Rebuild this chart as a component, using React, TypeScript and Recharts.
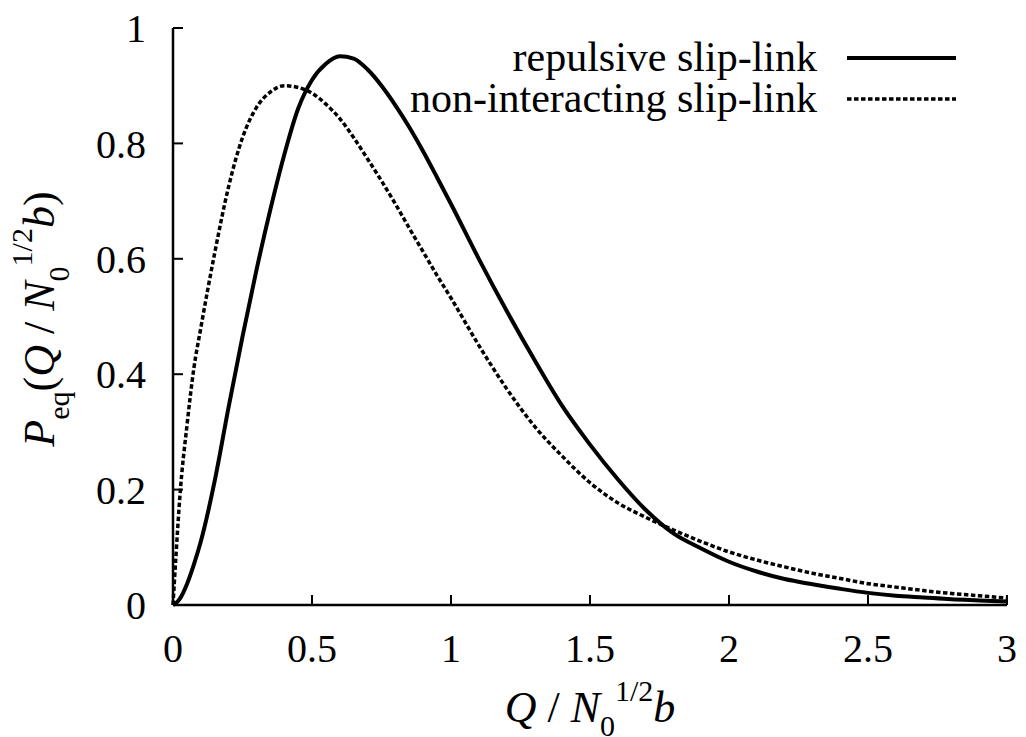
import React from 'react';
import { LineChart, Line, XAxis, YAxis, Legend } from 'recharts';

const FONT = 'Liberation Serif, Tinos, Times New Roman, Times, DejaVu Serif, serif';

// Q / N0^(1/2) b
const qValues = [
  0, 0.01, 0.025, 0.05, 0.075, 0.1,
  0.15, 0.2, 0.25, 0.3, 0.35, 0.4, 0.45, 0.5, 0.55, 0.6, 0.65, 0.7, 0.75, 0.8, 0.85, 0.9, 0.95, 1.0,
  1.1, 1.2, 1.3, 1.4, 1.5, 1.6, 1.7, 1.8, 1.9, 2.0, 2.1, 2.2, 2.3, 2.4, 2.5, 2.6, 2.7, 2.8, 2.9, 3.0,
];

const repulsive = [
  0, 0.003, 0.011, 0.036, 0.07, 0.11,
  0.215, 0.343, 0.465, 0.58, 0.685, 0.78, 0.86, 0.91, 0.938, 0.951, 0.947, 0.928, 0.9, 0.866, 0.828, 0.786, 0.741, 0.695,
  0.6, 0.51, 0.425, 0.345, 0.278, 0.218, 0.165, 0.124, 0.098, 0.075, 0.058, 0.045, 0.036, 0.028, 0.021, 0.016, 0.013, 0.01, 0.008, 0.006,
];

const nonInteracting = [
  0, 0.08, 0.19, 0.31, 0.41, 0.48,
  0.61, 0.725, 0.81, 0.862, 0.889, 0.9, 0.897, 0.887, 0.868, 0.843, 0.81, 0.773, 0.735, 0.695, 0.653, 0.612, 0.571, 0.532,
  0.45, 0.375, 0.31, 0.258, 0.212, 0.177, 0.152, 0.13, 0.11, 0.092, 0.078, 0.066, 0.055, 0.046, 0.037, 0.031, 0.025, 0.02, 0.016, 0.012,
];

const xTicks = [0, 0.5, 1, 1.5, 2, 2.5, 3];
const yTicks = [0, 0.2, 0.4, 0.6, 0.8, 1];

const series = [
  { key: 'repulsive', name: 'repulsive slip-link', width: 4, dash: undefined },
  { key: 'nonInteracting', name: 'non-interacting slip-link', width: 3.5, dash: '4.5 2.5' },
];

const data = qValues.map((q, i) => ({
  q,
  repulsive: repulsive[i],
  nonInteracting: nonInteracting[i],
}));

const tickStyle = { fontFamily: FONT, fontSize: 40, fill: '#000' };
const axisLine = { stroke: '#000', strokeWidth: 2.5 };
const tickLine = { stroke: '#000', strokeWidth: 2 };

const LegendBox = () => (
  <div style={{ fontFamily: FONT, fontSize: 42, color: '#000' }}>
    {series.map((s) => (
      <div
        key={s.key}
        style={{ display: 'flex', alignItems: 'center', justifyContent: 'flex-end', height: 41, lineHeight: '41px' }}
      >
        <span>{s.name}</span>
        <svg width={109} height={10} style={{ marginLeft: 30 }}>
          <line x1={0} x2={109} y1={5} y2={5} stroke="#000" strokeWidth={s.width} strokeDasharray={s.dash} />
        </svg>
      </div>
    ))}
  </div>
);

const XLabel = (props: any) => {
  const { viewBox } = props;
  const cx = viewBox.x + viewBox.width / 2;
  const y = viewBox.y + 117;
  return (
    <text x={cx} y={y} textAnchor="middle" fontFamily={FONT} fontSize={44} fill="#000">
      <tspan fontStyle="italic">Q</tspan>
      <tspan> / </tspan>
      <tspan fontStyle="italic">N</tspan>
      <tspan dy={14} fontSize={30}>0</tspan>
      <tspan dy={-35} fontSize={30}>1/2</tspan>
      <tspan dy={21} fontStyle="italic">b</tspan>
    </text>
  );
};

const YLabel = () => {
  const x = 54;
  const y = 319;
  return (
    <text x={x} y={y} transform={`rotate(-90, ${x}, ${y})`} textAnchor="middle" fontFamily={FONT} fontSize={44} fill="#000">
      <tspan fontStyle="italic">P</tspan>
      <tspan dy={15} fontSize={30}>eq</tspan>
      <tspan dy={-15}>(</tspan>
      <tspan fontStyle="italic">Q</tspan>
      <tspan> / </tspan>
      <tspan fontStyle="italic">N</tspan>
      <tspan dy={15} fontSize={30}>0</tspan>
      <tspan dy={-37} fontSize={30}>1/2</tspan>
      <tspan dy={22} fontStyle="italic">b</tspan>
      <tspan>)</tspan>
    </text>
  );
};

export default function App() {
  return (
    <div style={{ position: 'absolute', left: 0, top: 0, background: '#fff' }}>
      <LineChart width={1026} height={737} data={data} margin={{ top: 28, right: 19, left: 73, bottom: 72 }}>
        <XAxis
          dataKey="q"
          type="number"
          domain={[0, 3]}
          ticks={xTicks}
          height={60}
          tickSize={-10}
          tickMargin={39}
          tick={tickStyle}
          axisLine={axisLine}
          tickLine={tickLine}
          label={{ content: (p: any) => <XLabel {...p} /> }}
        />
        <XAxis
          xAxisId="top"
          dataKey="q"
          type="number"
          orientation="top"
          domain={[0, 3]}
          ticks={xTicks}
          height={0}
          tickSize={-10}
          tick={false}
          axisLine={axisLine}
          tickLine={tickLine}
        />
        <YAxis
          type="number"
          domain={[0, 1]}
          ticks={yTicks}
          width={100}
          tickSize={-10}
          tickMargin={37}
          tick={tickStyle}
          axisLine={axisLine}
          tickLine={tickLine}
          label={{ content: () => <YLabel /> }}
        />
        <YAxis
          yAxisId="right"
          type="number"
          orientation="right"
          domain={[0, 1]}
          ticks={yTicks}
          width={0}
          tickSize={-10}
          tick={false}
          axisLine={axisLine}
          tickLine={tickLine}
        />
        <Legend
          layout="horizontal"
          verticalAlign="middle"
          content={() => <LegendBox />}
          wrapperStyle={{ left: 300, top: 37, width: 656 }}
        />
        {series.map((s) => (
          <Line
            key={s.key}
            dataKey={s.key}
            name={s.name}
            type="monotone"
            stroke="#000"
            strokeWidth={s.width}
            strokeDasharray={s.dash}
            dot={false}
            activeDot={false}
            isAnimationActive={false}
          />
        ))}
      </LineChart>
    </div>
  );
}
